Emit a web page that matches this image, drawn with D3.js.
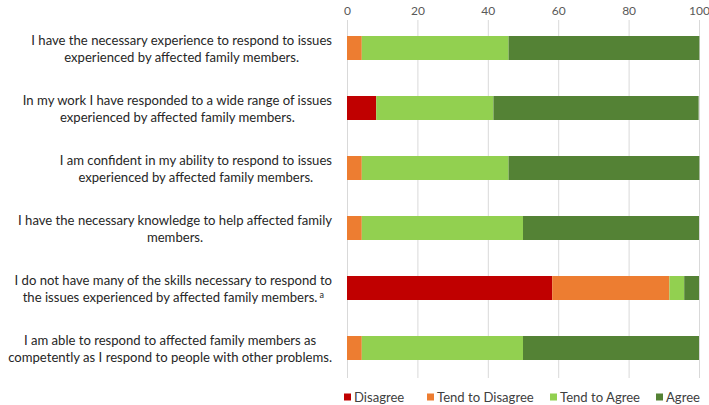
<!DOCTYPE html>
<html>
<head>
<meta charset="utf-8">
<script src="https://cdn.jsdelivr.net/npm/d3@7"></script>
<style>
  body { margin: 0; background: #fff; }
  text { font-family: Lato, "Open Sans", sans-serif; }
</style>
</head>
<body>
<div id="chart"></div>
<script>
// statements, top to bottom; each label is split into its printed lines
var statements = [
  ["I have the necessary experience to respond to issues", "experienced by affected family members."],
  ["In my work I have responded to a wide range of issues", "experienced by affected family members."],
  ["I am confident in my ability to respond to issues", "experienced by affected family members."],
  ["I have the necessary knowledge to help affected family", "members."],
  ["I do not have many of the skills necessary to respond to", "the issues experienced by affected family members."],
  ["I am able to respond to affected family members as", "competently as I respond to people with other problems."]
];
var footnote = [false, false, false, false, true, false];

var categories = ["Disagree", "Tend to Disagree", "Tend to Agree", "Agree"];
var colors = ["#C00000", "#ED7D31", "#92D050", "#548235"];

// percent of respondents, one array per response
var disagree      = [0,    8.3,  0,    0,    58.3, 0];
var tendDisagree  = [4.2,  0,    4.2,  4.2,  33.3, 4.2];
var tendAgree     = [41.7, 33.3, 41.7, 45.8, 4.2,  45.8];
var agree         = [54.2, 58.3, 54.2, 50.0, 4.2,  50.0];

var xTicks = [0, 20, 40, 60, 80, 100];

var width = 709, height = 405;
var margin = {top: 18, right: 10, bottom: 27, left: 347};

var svg = d3.select("#chart").append("svg")
  .attr("width", width).attr("height", height);

var x = d3.scaleLinear().domain([0, 100]).range([margin.left, 699]);
var y = d3.scaleBand().domain(d3.range(statements.length))
  .range([margin.top, height - margin.bottom]).paddingInner(0.6).paddingOuter(0.3);

// grid
svg.append("g").selectAll("line").data(xTicks).join("line")
  .attr("x1", function(d) { return x(d) + 0.5; })
  .attr("x2", function(d) { return x(d) + 0.5; })
  .attr("y1", 20).attr("y2", 378)
  .attr("stroke", "#D9D9D9").attr("stroke-width", 1);

// top axis labels
var xAxis = d3.axisTop(x).tickValues(xTicks).tickSize(0).tickPadding(0);
var axG = svg.append("g").attr("transform", "translate(0,15)").call(xAxis);
axG.select(".domain").remove();
axG.selectAll("text").attr("fill", "#595959").style("font-size", "12px")
  .attr("dy", "0");

// stack
var series = [disagree, tendDisagree, tendAgree, agree];
var rows = statements.map(function(s, i) {
  var r = {i: i};
  categories.forEach(function(c, k) { r[c] = series[k][i]; });
  return r;
});
var stacked = d3.stack().keys(categories)(rows);

svg.append("g").selectAll("g").data(stacked).join("g")
  .attr("fill", function(d, k) { return colors[k]; })
  .selectAll("rect").data(function(d) { return d; }).join("rect")
  .attr("x", function(d) { return x(d[0]); })
  .attr("width", function(d) { return Math.max(0, x(d[1]) - x(d[0])); })
  .attr("y", function(d) { return y(d.data.i); })
  .attr("height", y.bandwidth());

// category labels: block right-aligned, lines centred in block
var labelRight = 332, lineH = 17.5;
var lab = svg.append("g");
statements.forEach(function(lines, i) {
  var cy = y(i) + y.bandwidth() / 2 + 1;
  var g = lab.append("g");
  var texts = lines.map(function(t, j) {
    var el = g.append("text")
      .attr("y", cy + (j - (lines.length - 1) / 2) * lineH)
      .attr("dy", "0.35em")
      .attr("text-anchor", "middle")
      .attr("fill", "#262626")
      .style("font-size", "13.1px")
      .text(t);
    if (footnote[i] && j === lines.length - 1) {
      el.append("tspan").attr("dx", 2).attr("dy", "-0.5em").style("font-size", "9px").text("a");
    }
    return el;
  });
  var maxW = d3.max(texts, function(t) { return t.node().getComputedTextLength(); });
  maxW = Math.min(maxW, labelRight - 1);
  texts.forEach(function(t) { t.attr("x", labelRight - maxW / 2); });
});

// legend
var legendX = [344, 427, 550, 656];
var leg = svg.append("g").selectAll("g").data(categories).join("g")
  .attr("transform", function(d, k) { return "translate(" + legendX[k] + ",397)"; });
leg.append("rect").attr("x", 0).attr("y", -3.5).attr("width", 7).attr("height", 7)
  .attr("fill", function(d, k) { return colors[k]; });
leg.append("text").attr("x", 10).attr("dy", "0.35em")
  .attr("fill", "#404040").style("font-size", "13.1px")
  .text(function(d) { return d; });
</script>
</body>
</html>
